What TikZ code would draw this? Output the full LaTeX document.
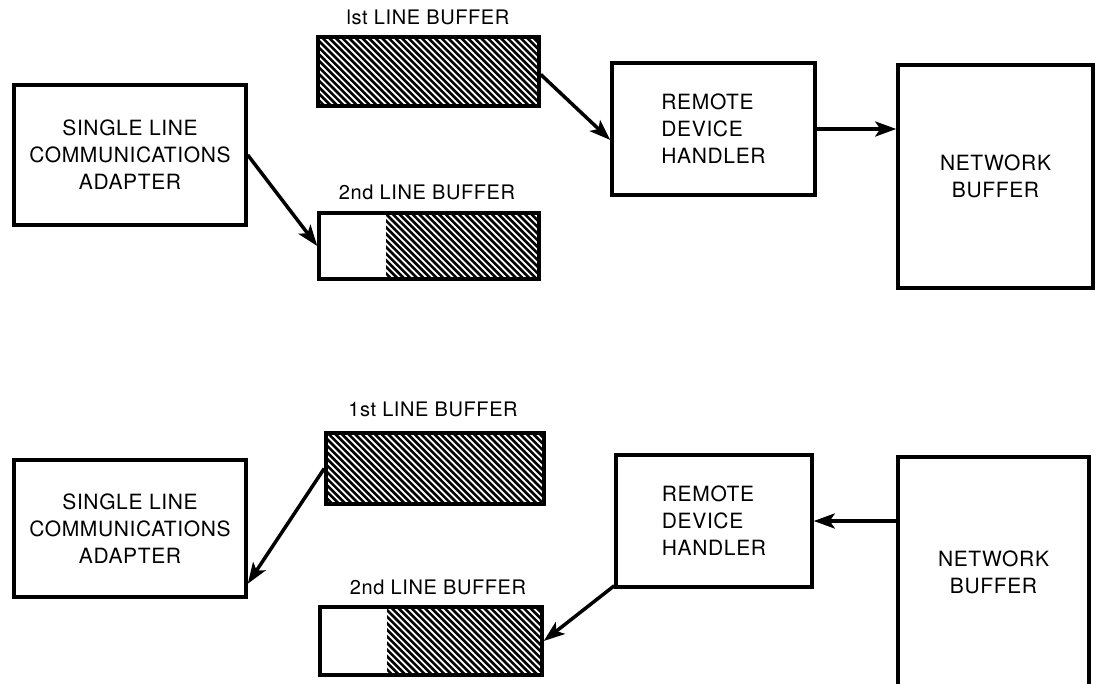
\documentclass[tikz,border=0pt]{standalone}
\usepackage{fontspec}
\setmainfont{TeX Gyre Heros}
\usetikzlibrary{arrows.meta}
\tikzset{
  box/.style={draw, line width=3.5pt, inner sep=0pt, align=center,
    font=\fontsize{21}{27}\selectfont\addfontfeature{LetterSpace=3}},
  lbl/.style={inner sep=0pt, font=\fontsize{20}{24}\selectfont\addfontfeature{LetterSpace=3}},
  hatch/.style={path picture={
    \coordinate (hA) at (path picture bounding box.south west);
    \coordinate (hB) at (path picture bounding box.north east);
    \clip ([xshift=#1]hA) rectangle (hB);
    \foreach \k in {0,...,55}{
      \draw[line width=2.6pt] ([xshift=\k*6.6pt]hA) -- ++(-120pt,120pt);
    }
  }},
  hatch/.default=0pt,
  conn/.style={line width=3.5pt, -{Stealth[length=21pt,width=15pt,inset=5pt]}}
}
\begin{document}
\begin{tikzpicture}[x=1pt,y=-1pt]
\useasboundingbox (0,0) rectangle (1095,684);
\clip (0,0) rectangle (1095,684);

% ---------- top ----------
\node[box, minimum width=232pt, minimum height=140pt] (scaA) at (130,155)
  {SINGLE LINE\\COMMUNICATIONS\\ADAPTER};
\node[lbl] (lbA1) at (428,17) {lst LINE BUFFER};
\node[box, hatch, minimum width=221pt, minimum height=69pt] (bufA1) at (428.5,71.5) {};
\node[lbl] (lbA2) at (427,192) {2nd LINE BUFFER};
\node[box, hatch=67pt, minimum width=220pt, minimum height=66pt] (bufA2) at (429,246) {};
\node[box, align=left, minimum width=203pt, minimum height=132pt] (rdhA) at (713.5,129)
  {REMOTE\\DEVICE\\HANDLER};
\node[box, minimum width=195pt, minimum height=223pt] (nbA) at (995.5,176.5)
  {NETWORK\\BUFFER};

\draw[conn] (scaA.east) -- (bufA2.west);
\draw[conn] ([yshift=-3pt]bufA1.east) -- ([yshift=-11pt]rdhA.west);
\draw[conn] (rdhA.east) -- (rdhA.east -| nbA.west);

% ---------- bottom ----------
\node[box, minimum width=232pt, minimum height=137pt] (scaB) at (130,528.5)
  {SINGLE LINE\\COMMUNICATIONS\\ADAPTER};
\node[lbl] (lbB1) at (433,409) {1st LINE BUFFER};
\node[box, hatch, minimum width=218pt, minimum height=71pt] (bufB1) at (435,468.5) {};
\node[lbl] (lbB2) at (438,587) {2nd LINE BUFFER};
\node[box, hatch=67pt, minimum width=222pt, minimum height=68pt] (bufB2) at (431,641) {};
\node[box, align=left, minimum width=196pt, minimum height=132pt] (rdhB) at (714,521)
  {REMOTE\\DEVICE\\HANDLER};
\node[box, minimum width=191pt, minimum height=230pt] (nbB) at (993.5,572)
  {NETWORK\\BUFFER};

\draw[conn] (rdhB.east -| nbB.west) -- (rdhB.east);
\draw[conn] (bufB1.west) -- ([yshift=15pt]scaB.south east);
\draw[conn] ([yshift=3pt]rdhB.south west) -- (bufB2.east);
\end{tikzpicture}
\end{document}
